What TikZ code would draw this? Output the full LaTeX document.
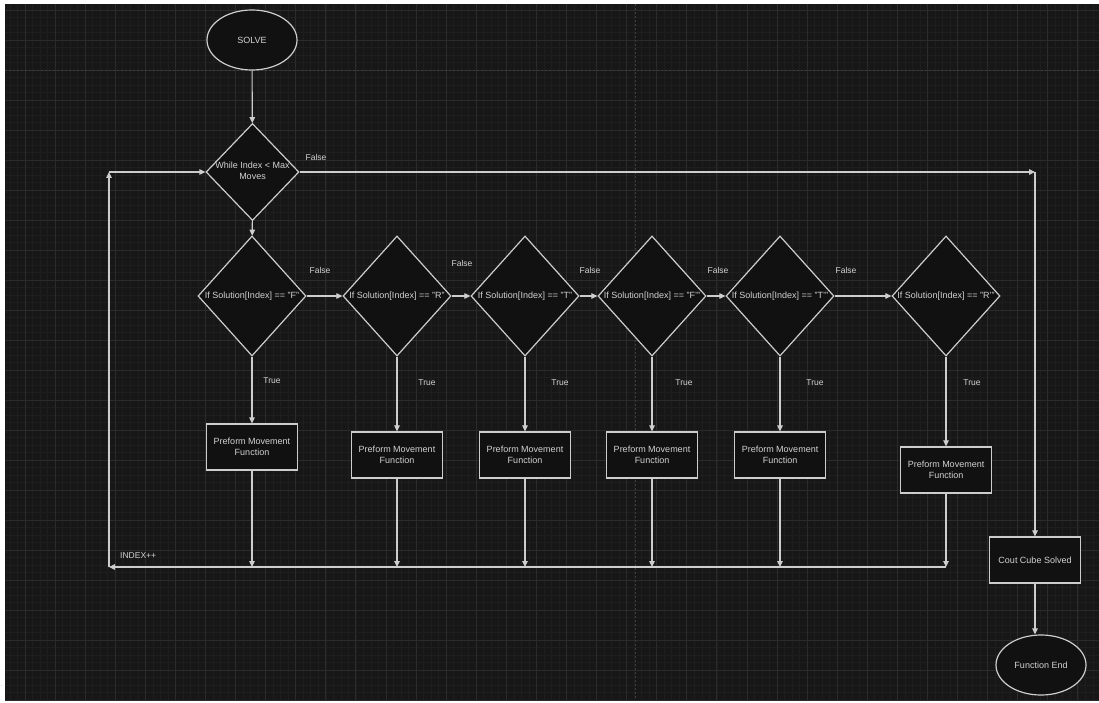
\documentclass[tikz,border=0pt]{standalone}
\usepackage{fontspec}
\setmainfont{Liberation Sans}
\usetikzlibrary{shapes.geometric,arrows.meta}
\definecolor{bg}{HTML}{171717}
\definecolor{gridminor}{HTML}{1E1E1E}
\definecolor{gridmajor}{HTML}{2B2B2B}
\definecolor{pagebreak}{HTML}{3E3E3E}
\definecolor{shapefill}{HTML}{111111}
\definecolor{ink}{HTML}{CDCDCD}
\definecolor{txt}{HTML}{D2D2D2}
\tikzset{
  base/.style={draw=ink, line width=1.2pt, fill=shapefill, text=txt, font=\fontsize{9}{11}\selectfont},
  term/.style={base, ellipse, minimum width=90pt, minimum height=60pt, inner sep=0pt},
  proc/.style={base, rectangle, minimum width=91pt, minimum height=46pt, align=center, inner sep=0pt},
  dec/.style={base, diamond, minimum width=108pt, minimum height=120pt, inner sep=0pt},
  lbl/.style={text=txt, font=\fontsize{8.5}{10}\selectfont, inner sep=0pt},
  arr/.style={draw=ink, line width=1.1pt, -{Triangle[length=6pt,width=5.5pt]}},
}
\begin{document}
\begin{tikzpicture}[x=1pt,y=-1pt]
\useasboundingbox (0,0) rectangle (1099,703);
\fill[white] (0,0) rectangle (1099,703);
\fill[bg] (5,4) rectangle (1099,700);
\begin{scope}
  \clip (5,4) rectangle (1099,700);
  \foreach \k in {-2,...,143} \draw[gridminor, line width=0.6pt] ({25+7.52*\k},4) -- ({25+7.52*\k},700);
  \foreach \k in {-1,...,92} \draw[gridminor, line width=0.6pt] (5,{10+7.5*\k}) -- (1099,{10+7.5*\k});
  \foreach \k in {0,...,35} \draw[gridmajor, line width=0.8pt] ({25+30.08*\k},4) -- ({25+30.08*\k},700);
  \foreach \k in {0,...,23} \draw[gridmajor, line width=0.8pt] (5,{10+30*\k}) -- (1099,{10+30*\k});
  \draw[pagebreak, line width=0.9pt, dash pattern=on 2pt off 2pt] (5,70.5) -- (1099,70.5);
  \draw[pagebreak, line width=0.9pt, dash pattern=on 2pt off 2pt] (635,4) -- (635,700);
\end{scope}
\node[text=gray, font=\fontsize{6}{6}\selectfont, inner sep=0pt] (dot) at (2,686) {.};

% nodes
\node[term] (solve) at (252,40) {SOLVE};
\node[dec, minimum width=93pt, minimum height=97pt] (w) at (252.5,172)
  {\makebox[0pt]{\begin{tabular}{@{}c@{}}While Index < Max\\Moves\end{tabular}}};

\node[dec] (d1) at (252,296) {\makebox[0pt]{If Solution[Index] == "F"}};
\node[dec] (d2) at (397,296) {\makebox[0pt]{If Solution[Index] == "R"}};
\node[dec] (d3) at (525,296) {\makebox[0pt]{If Solution[Index] == "T"}};
\node[dec] (d4) at (652,296) {\makebox[0pt]{If Solution[Index] == "F'"}};
\node[dec] (d5) at (780,296) {\makebox[0pt]{If Solution[Index] == "T'"}};
\node[dec] (d6) at (946,296) {\makebox[0pt]{If Solution[Index] == "R'"}};

\node[proc] (b1) at (252,447) {Preform Movement\\Function};
\node[proc] (b2) at (397,455) {Preform Movement\\Function};
\node[proc] (b3) at (525,455) {Preform Movement\\Function};
\node[proc] (b4) at (652,455) {Preform Movement\\Function};
\node[proc] (b5) at (780,455) {Preform Movement\\Function};
\node[proc] (b6) at (946,470) {Preform Movement\\Function};

\node[proc] (cout) at (1035,560) {Cout Cube Solved};
\node[term] (fend) at (1041,665) {Function End};

% coordinates
\coordinate (bus) at (109,567);
\coordinate (loopT) at (109,172);

% connectors
\draw[arr] (solve) -- (w);
\draw[arr] (w) -- (d1);
\draw[arr] (w.east) -- (cout.north |- w.east);
\draw[arr] (cout.north |- w.east) -- (cout.north);
\draw[arr] (cout.south) -- (cout.south |- fend.north);

\draw[arr] (d1.east) -- (d2.west);
\draw[arr] (d2.east) -- (d3.west);
\draw[arr] (d3.east) -- (d4.west);
\draw[arr] (d4.east) -- (d5.west);
\draw[arr] (d5.east) -- (d6.west);

\foreach \i in {1,...,6} {
  \draw[arr] (d\i.south) -- (b\i.north);
  \draw[arr] (b\i.south) -- (b\i.south |- bus);
}
\draw[arr] (b6.south |- bus) -- (bus);
\draw[arr] (bus) -- (loopT);
\draw[arr] (loopT) -- (w.west);

% labels
\node[lbl] (fl0) at (316,157) {False};
\node[lbl] (fl1) at (320,270) {False};
\node[lbl] (fl2) at (462,263) {False};
\node[lbl] (fl3) at (590,270) {False};
\node[lbl] (fl4) at (718,270) {False};
\node[lbl] (fl5) at (846,270) {False};

\node[lbl] (tl1) at (272,381) {True};
\node[lbl] (tl2) at (427,383) {True};
\node[lbl] (tl3) at (560,383) {True};
\node[lbl] (tl4) at (684,383) {True};
\node[lbl] (tl5) at (815,383) {True};
\node[lbl] (tl6) at (972,383) {True};

\node[lbl, anchor=west] (inc) at (120,556) {INDEX++};
\end{tikzpicture}
\end{document}
